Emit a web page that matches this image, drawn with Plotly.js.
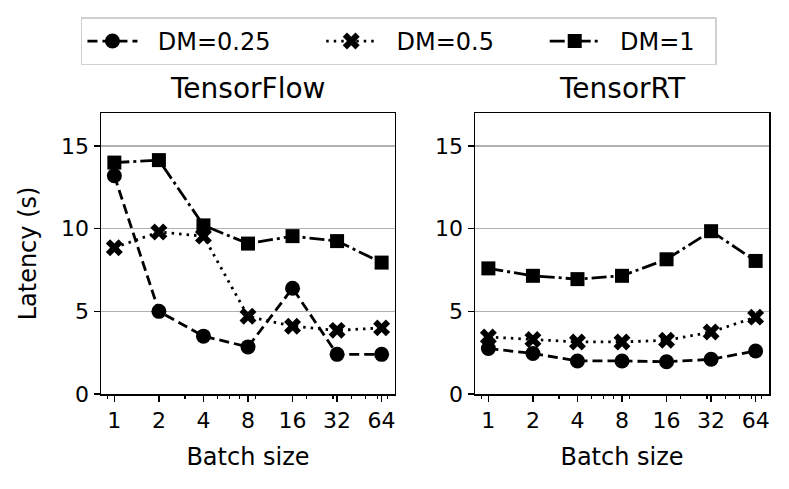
<!DOCTYPE html>
<html>
<head>
<meta charset="utf-8">
<script src="https://cdn.plot.ly/plotly-3.0.1.min.js"></script>
<style>html,body{margin:0;padding:0;background:#fff;}#chart{width:789px;height:489px;}</style>
</head>
<body>
<div id="chart"></div>
<script>
const batchSizes = [1, 2, 4, 8, 16, 32, 64];
const tickLabels = ["1", "2", "4", "8", "16", "32", "64"];
const minorTicks = [0.9, 3, 5, 6, 7, 9, 20, 30, 40, 50, 60, 70];
const seriesNames = ["DM=0.25", "DM=0.5", "DM=1"];
const tfDM025 = [13.2, 5.0, 3.5, 2.85, 6.4, 2.4, 2.4];
const tfDM05 = [8.85, 9.8, 9.55, 4.7, 4.1, 3.85, 4.0];
const tfDM1 = [14.0, 14.15, 10.2, 9.1, 9.55, 9.25, 7.95];
const trtDM025 = [2.75, 2.45, 2.0, 2.0, 1.95, 2.1, 2.6];
const trtDM05 = [3.45, 3.3, 3.15, 3.15, 3.25, 3.75, 4.65];
const trtDM1 = [7.6, 7.15, 6.95, 7.15, 8.15, 9.85, 8.05];
const panelTitles = ["TensorFlow", "TensorRT"];

const FONT = "DejaVu Sans, Liberation Sans, sans-serif";
const NB = "\u00a0";
const styles = [
  {dash: "10px,5px", symbol: "circle", size: 15, pad: 6},
  {dash: "2.5px,5px", symbol: "x", size: 15, pad: 6},
  {dash: "15px,4px,3px,4px", symbol: "square", size: 14, pad: 2}
];
const panels = [[tfDM025, tfDM05, tfDM1], [trtDM025, trtDM05, trtDM1]];

const traces = [];
panels.forEach((vals, p) => {
  vals.forEach((ys, i) => {
    traces.push({
      x: batchSizes, y: ys, name: NB + NB + seriesNames[i] + NB.repeat(styles[i].pad),
      type: "scatter", mode: "lines+markers",
      xaxis: p === 0 ? "x" : "x2", yaxis: p === 0 ? "y" : "y2",
      showlegend: p === 0, legendgroup: seriesNames[i],
      line: {color: "#000", width: 2.8, dash: styles[i].dash},
      marker: {color: "#000", symbol: styles[i].symbol, size: styles[i].size, line: {width: 0}}
    });
  });
});

const xr = [Math.log10(Math.pow(2, -0.3)), Math.log10(64 * Math.pow(2, 0.3))];
function xax(domain) {
  return {
    type: "log", domain: domain, range: xr,
    tickmode: "array", tickvals: batchSizes, ticktext: tickLabels,
    ticks: "outside", ticklen: 6, tickwidth: 1.5, tickcolor: "#000",
    minor: {tickmode: "array", tickvals: minorTicks, ticks: "outside", ticklen: 3.5, tickwidth: 1.2, tickcolor: "#000", showgrid: false},
    showline: true, linecolor: "#000", linewidth: 1.5, mirror: true,
    showgrid: false, zeroline: false,
    tickfont: {family: FONT, size: 22, color: "#000"},
    title: {text: "Batch size", font: {family: FONT, size: 24, color: "#000"}, standoff: 16}
  };
}
function yax(anchor, withTitle) {
  const a = {
    anchor: anchor, range: [0, 17], tickvals: [0, 5, 10, 15],
    ticks: "outside", ticklen: 6, tickwidth: 1.5, tickcolor: "#000",
    showline: true, linecolor: "#000", linewidth: 1.5, mirror: true,
    showgrid: true, gridcolor: "#b0b0b0", gridwidth: 1.5, zeroline: false,
    tickfont: {family: FONT, size: 22, color: "#000"}
  };
  if (withTitle) a.title = {text: "Latency (s)", font: {family: FONT, size: 24, color: "#000"}, standoff: 17};
  return a;
}

const layout = {
  width: 789, height: 489,
  margin: {l: 101, r: 20, t: 113, b: 95},
  paper_bgcolor: "#fff", plot_bgcolor: "#fff",
  font: {family: FONT, color: "#000"},
  xaxis: xax([0, 0.4401]),
  xaxis2: xax([0.5599, 1]),
  yaxis: yax("x", true),
  yaxis2: yax("x2", false),
  showlegend: true,
  legend: {
    orientation: "h", x: -0.03, xanchor: "left", y: 1.34, yanchor: "top",
    bordercolor: "#d0d0d0", borderwidth: 1.5, bgcolor: "#fff",
    font: {family: FONT, size: 24, color: "#000"},
    itemwidth: 50,
    traceorder: "normal"
  },
  annotations: panelTitles.map((t, i) => ({
    text: t, showarrow: false,
    xref: i === 0 ? "x domain" : "x2 domain", yref: "paper",
    x: 0.5, y: 1.0, yshift: 6, xanchor: "center", yanchor: "bottom",
    font: {family: FONT, size: 28, color: "#000"}
  }))
};

Plotly.newPlot("chart", traces, layout, {displayModeBar: false, staticPlot: true});
</script>
</body>
</html>
